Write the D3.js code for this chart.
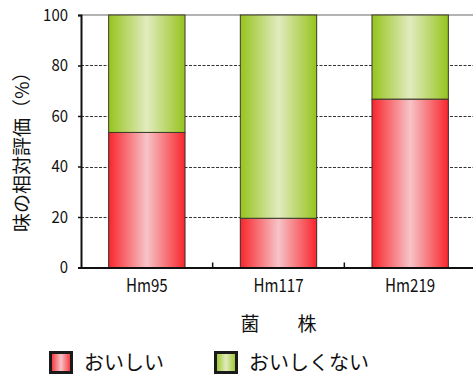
<!DOCTYPE html>
<html><head><meta charset="utf-8">
<script src="https://cdn.jsdelivr.net/npm/d3@7"></script>
<style>body{margin:0;background:#fff}svg{display:block}text{font-family:"Noto Sans CJK JP",sans-serif;fill:#111}</style>
</head><body><svg id="c" width="473" height="376"></svg>
<script>
const categories = ["Hm95", "Hm117", "Hm219"];
const oishii = [53.5, 19.5, 66.7];
const oishikunai = [46.5, 80.5, 33.3];
const seriesNames = ["おいしい", "おいしくない"];
const yTicks = [0, 20, 40, 60, 80, 100];
const yTitle = "味の相対評価（%）";
const xTitle = "菌　　株";

const svg = d3.select("#c");
const L = 81, R = 476, T = 15, B = 267.5;
const x = d3.scaleBand().domain(categories).range([L, R]).paddingInner(0.42).paddingOuter(0.21);
const y = d3.scaleLinear().domain([0, 100]).range([B, T]);

const defs = svg.append("defs");
function grad(id, edge, mid){
  const g = defs.append("linearGradient").attr("id", id).attr("x1","0").attr("x2","1").attr("y1","0").attr("y2","0");
  g.append("stop").attr("offset","0").attr("stop-color", edge);
  g.append("stop").attr("offset","0.5").attr("stop-color", mid);
  g.append("stop").attr("offset","1").attr("stop-color", edge);
}
grad("gr", "#f8262c", "#f6c4c8");
grad("gg", "#96c41e", "#e2ebbf");

// top frame
svg.append("line").attr("x1", L).attr("x2", 473).attr("y1", T).attr("y2", T).attr("stroke", "#9a9a9a").attr("stroke-width", 1.5);

// gridlines
svg.append("g").selectAll("line").data(yTicks.filter(d => d > 0 && d < 100)).join("line")
  .attr("x1", L).attr("x2", 473).attr("y1", d => Math.round(y(d)) + 0.5).attr("y2", d => Math.round(y(d)) + 0.5)
  .attr("stroke", "#333").attr("stroke-width", 1.2).attr("stroke-dasharray", "3,1.5");

const stack = categories.map((c, i) => ({c, a: oishii[i], b: oishikunai[i]}));
const bw = x.bandwidth();
const gb = svg.append("g");
gb.selectAll("rect.r").data(stack).join("rect").attr("class","r")
  .attr("x", d => x(d.c)).attr("width", bw).attr("y", d => y(d.a)).attr("height", d => y(0) - y(d.a))
  .attr("fill", "url(#gr)").attr("stroke", "#3a2a2a").attr("stroke-width", 1);
gb.selectAll("rect.g").data(stack).join("rect").attr("class","g")
  .attr("x", d => x(d.c)).attr("width", bw).attr("y", d => y(d.a + d.b)).attr("height", d => y(d.a) - y(d.a + d.b))
  .attr("fill", "url(#gg)").attr("stroke", "#3a3a2a").attr("stroke-width", 1);

// axes
const yAxis = svg.append("g").attr("transform", `translate(${L},0)`)
  .call(d3.axisLeft(y).tickValues(yTicks).tickSize(3).tickPadding(0));
yAxis.select(".domain").attr("stroke", "#111").attr("stroke-width", 2);
yAxis.selectAll(".tick line").attr("stroke", "#111").attr("stroke-width", 1.5);
yAxis.selectAll("text").attr("x", 0).attr("font-size", 17).attr("fill", "#111")
  .attr("font-family", '"Noto Sans CJK JP",sans-serif')
  .attr("transform", "translate(-13,0) scale(0.88,1)");

const xAxis = svg.append("g").attr("transform", `translate(0,${B})`)
  .call(d3.axisBottom(x).tickSize(0).tickPadding(12));
xAxis.select(".domain").attr("stroke", "#111").attr("stroke-width", 2);
xAxis.selectAll("text").attr("font-size", 18).attr("fill", "#111")
  .attr("font-family", '"Noto Sans CJK JP",sans-serif').attr("transform", "scale(0.84,1)");
// category boundary ticks
const step = x.step();
svg.append("g").selectAll("line").data(categories.slice(1)).join("line")
  .attr("x1", d => x(d) - (step - bw) / 2).attr("x2", d => x(d) - (step - bw) / 2)
  .attr("y1", B).attr("y2", B - 5).attr("stroke", "#111").attr("stroke-width", 1.5);

// titles
svg.append("text").attr("transform", `translate(29,${(T + B) / 2 + 6}) rotate(-90)`)
  .attr("text-anchor", "middle").attr("font-size", 19).text(yTitle);
svg.append("text").attr("x", (L + R) / 2).attr("y", 331).attr("text-anchor", "middle").attr("font-size", 19).text(xTitle);

// legend
const leg = svg.append("g");
const lx = [49, 214];
seriesNames.forEach((n, i) => {
  leg.append("rect").attr("x", lx[i] + 1.5).attr("y", 352.5).attr("width", 21).attr("height", 20)
    .attr("fill", i === 0 ? "url(#gr)" : "url(#gg)").attr("stroke", "#1a1a1a").attr("stroke-width", 3);
  leg.append("text").attr("x", lx[i] + 35).attr("y", 370).attr("font-size", 20).text(n);
});
</script></body></html>
